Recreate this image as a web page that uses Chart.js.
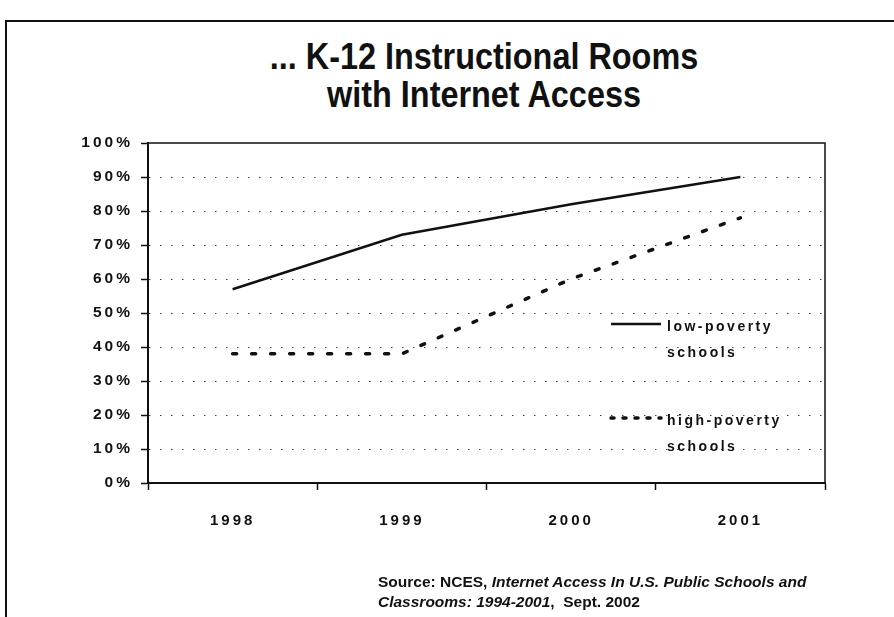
<!DOCTYPE html>
<html>
<head>
<meta charset="utf-8">
<script src="https://cdn.jsdelivr.net/npm/chart.js@4"></script>
<style>
  body { margin: 0; background: #fff; }
  #page { position: relative; width: 894px; height: 617px; overflow: hidden; font-family: "Liberation Sans", Arial, sans-serif; color: #111; }
  #frame { position: absolute; left: 5px; top: 20px; width: 960px; height: 700px; border-top: 2px solid #111; border-left: 2px solid #111; }
  #title { position: absolute; left: 84px; width: 800px; top: 38px; text-align: center; font-weight: bold; font-size: 36px; line-height: 38px; transform: scaleX(0.9); }
  #wrap { position: absolute; left: 0; top: 0; width: 894px; height: 617px; }
  #source { position: absolute; left: 378px; top: 572px; font-weight: bold; font-size: 15.5px; line-height: 20px; white-space: nowrap; }
</style>
</head>
<body>
<div id="page">
  <div id="frame"></div>
  <div id="title">... K-12 Instructional Rooms<br>with Internet Access</div>
  <div id="wrap"><canvas id="chart"></canvas></div>
  <div id="source">Source: NCES, <i>Internet Access In U.S. Public Schools and<br>Classrooms: 1994-2001</i>,&nbsp; Sept. 2002</div>
</div>
<script>
const years = ['1998', '1999', '2000', '2001'];
const lowPoverty = [57, 73, 82, 90];
const highPoverty = [38, 38, 60, 78];
const seriesNames = [['low-poverty', 'schools'], ['high-poverty', 'schools']];
const yMax = 100;
const yStep = 10;

const ink = '#111';
const tickFont = { family: '"Liberation Sans", Arial, sans-serif', weight: 'bold', size: 15.5 };

// spaced-out lettering like the scanned slide
const spacing = {
    id: 'spacing',
    beforeDraw(chart) {
        chart.ctx.letterSpacing = '3px';
    }
};

// box round the plot area (top and right sides)
const plotBox = {
    id: 'plotBox',
    beforeDatasetsDraw(chart) {
        const { ctx, chartArea: a } = chart;
        ctx.save();
        ctx.strokeStyle = ink;
        ctx.lineWidth = 1.5;
        ctx.strokeRect(a.left, a.top, a.right - a.left, a.bottom - a.top);
        ctx.restore();
    }
};

// legend inside the plot, two text lines per entry
const legendBox = {
    id: 'legendBox',
    afterDraw(chart) {
        const { ctx, chartArea: a } = chart;
        ctx.save();
        ctx.font = 'bold 14px "Liberation Sans", Arial, sans-serif';
        ctx.letterSpacing = '2.5px';
        ctx.fillStyle = ink;
        ctx.textBaseline = 'middle';
        chart.data.datasets.forEach((ds, i) => {
            const y = a.top + 181 + i * 94;
            ctx.strokeStyle = ds.borderColor;
            ctx.lineWidth = ds.borderWidth;
            ctx.setLineDash(i === 0 ? [] : [3, 9]);
            ctx.lineCap = ds.borderCapStyle || 'butt';
            ctx.beginPath();
            ctx.moveTo(a.left + 463, y);
            ctx.lineTo(a.left + 513, y);
            ctx.stroke();
            seriesNames[i].forEach((t, j) => ctx.fillText(t, a.left + 519, y + 3 + j * 26));
        });
        ctx.restore();
    }
};

new Chart(document.getElementById('chart'), {
    type: 'line',
    data: {
        labels: years,
        datasets: [{
            label: seriesNames[0].join(' '),
            data: lowPoverty,
            borderColor: ink,
            borderWidth: 2.5,
            pointRadius: 0,
            tension: 0
        }, {
            label: seriesNames[1].join(' '),
            data: highPoverty,
            borderColor: ink,
            borderWidth: 3.5,
            borderDash: [4, 15],
            borderCapStyle: 'round',
            pointRadius: 0,
            tension: 0
        }]
    },
    options: {
        animation: false,
        responsive: true,
        maintainAspectRatio: false,
        layout: { padding: { left: 0, top: 143, right: 69, bottom: 74 } },
        plugins: {
            legend: { display: false },
            tooltip: { enabled: false }
        },
        scales: {
            x: {
                offset: true,
                grid: {
                    offset: true,
                    drawOnChartArea: false,
                    tickLength: 7,
                    tickColor: ink,
                    tickWidth: 1.5
                },
                border: { color: ink, width: 2 },
                ticks: { font: { ...tickFont, size: 15 }, color: ink, padding: 22, maxRotation: 0 },
                afterFit(scale) { scale.height = 60; }
            },
            y: {
                min: 0,
                max: yMax,
                grid: {
                    color: (c) => (c.tick && (c.tick.value === 0 || c.tick.value === yMax)) ? 'rgba(0,0,0,0)' : '#444',
                    lineWidth: 1,
                    tickLength: 7,
                    tickColor: ink,
                    tickWidth: 1.5,
                    tickBorderDash: []
                },
                border: { color: ink, width: 2, dash: [1.5, 9.5] },
                ticks: {
                    stepSize: yStep,
                    font: tickFont,
                    color: ink,
                    padding: 8,
                    callback: (v) => v + '%'
                },
                afterFit(scale) { scale.width = 148; }
            }
        }
    },
    plugins: [spacing, plotBox, legendBox]
});
</script>
</body>
</html>
